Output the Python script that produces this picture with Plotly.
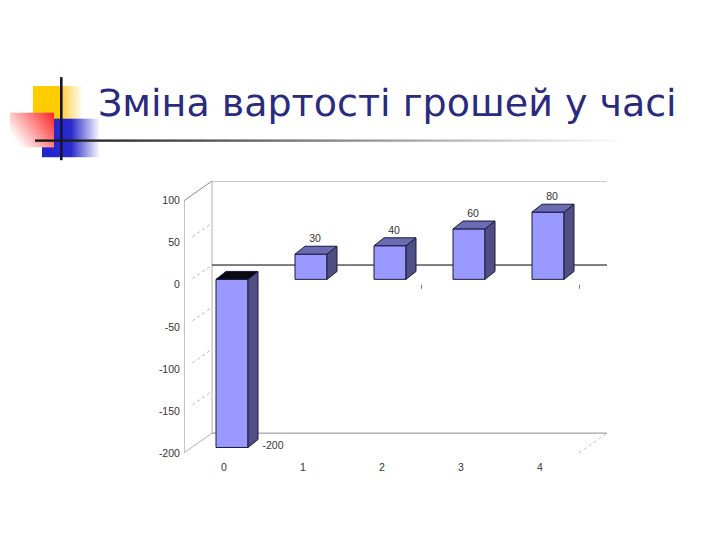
import base64
import plotly.graph_objects as go

title_text = "Зміна вартості грошей у часі"
categories = [0, 1, 2, 3, 4]
values = [-200, 30, 40, 60, 80]
y_ticks = [100, 50, 0, -50, -100, -150, -200]

PX_X = 79.0
PX_Y = 255 / 300
L, R, T, B = 184, 607, 183, 458
X0 = (L - 224) / PX_X
X1 = (R - 224) / PX_X
Y0 = -200
Y1 = 100 + 20 / PX_Y

def dx(p):
    return p / PX_X

def dy(p):
    return p / PX_Y

back_x, back_y = dx(28), dy(20)
shift_x, shift_y = dx(8), dy(5.5)
bar_w = dx(32)
depth_x, depth_y = dx(10), dy(8)

GREY = "#8a8a8a"
shapes = []

def seg(x0, y0, x1, y1, color=GREY, width=1, dash="solid", layer="below"):
    shapes.append(dict(type="line", xref="x", yref="y", x0=x0, y0=y0, x1=x1, y1=y1,
                       line=dict(color=color, width=width, dash=dash), layer=layer))

xr = X1
xf = xr - back_x
# frame
seg(X0, Y0, X0, 100)
seg(X0, 100, X0 + back_x, 100 + back_y)
seg(X0 + back_x, 100 + back_y, xr, 100 + back_y)
seg(X0 + back_x, Y0 + back_y, X0 + back_x, 100 + back_y, color="#b0b0a0")
seg(X0 + back_x, Y0 + back_y, xr, Y0 + back_y)
seg(X0, Y0, X0 + back_x, Y0 + back_y, color="#b0b0b0")
seg(xf, Y0, xr, Y0 + back_y, color="#bbbbbb", dash="dot")
seg(X0 + back_x, back_y, xr, back_y, color="#000000")
for t in y_ticks[1:-1]:
    seg(X0 + back_x * 0.3, t + back_y * 0.3, X0 + back_x, t + back_y, color="#b5b5b5", dash="dot")
for c in (2.5, 4.5):
    seg(c, 0, c, -dy(4), color="#777777")
    seg(c, Y0, c, Y0 - dy(3.5), color="#777777")

# 3D faces of the bars, derived from values
side_x, side_y, top_x, top_y, dtop_x, dtop_y = [], [], [], [], [], []
for c, v in zip(categories, values):
    x_l = c + shift_x - bar_w / 2
    x_r = c + shift_x + bar_w / 2
    hi = max(v, 0) + shift_y
    lo = min(v, 0) + shift_y
    side_x += [x_r, x_r + depth_x, x_r + depth_x, x_r, x_r, None]
    side_y += [lo, lo + depth_y, hi + depth_y, hi, lo, None]
    tx = [x_l, x_l + depth_x, x_r + depth_x, x_r, x_l, None]
    ty = [hi, hi + depth_y, hi + depth_y, hi, hi, None]
    if v < 0:
        dtop_x += tx
        dtop_y += ty
    else:
        top_x += tx
        top_y += ty

fig = go.Figure()
fig.add_trace(go.Bar(x=[c + shift_x for c in categories], y=values, base=shift_y, width=bar_w,
                     marker=dict(color="#9999ff", line=dict(color="#1a1a3a", width=1)),
                     hoverinfo="skip"))
outline = dict(color="#1a1a3a", width=1)
fig.add_trace(go.Scatter(x=side_x, y=side_y, mode="lines", fill="toself",
                         fillcolor="#4f4f85", line=outline, hoverinfo="skip"))
fig.add_trace(go.Scatter(x=top_x, y=top_y, mode="lines", fill="toself",
                         fillcolor="#6b6bb3", line=outline, hoverinfo="skip"))
fig.add_trace(go.Scatter(x=dtop_x, y=dtop_y, mode="lines", fill="toself",
                         fillcolor="#0a0a14", line=outline, hoverinfo="skip"))

# value labels
lab_x, lab_y = [], []
for c, v in zip(categories, values):
    if v < 0:
        lab_x.append(c + dx(49))
        lab_y.append(v + dy(7))
    else:
        lab_x.append(c + dx(12))
        lab_y.append(v + shift_y + dy(15))
fig.add_trace(go.Scatter(x=lab_x, y=lab_y, mode="text", text=[str(v) for v in values],
                         textposition="middle center",
                         textfont=dict(family="Liberation Sans", size=10.5, color="#333333"),
                         hoverinfo="skip"))

svg = """<svg xmlns='http://www.w3.org/2000/svg' width='720' height='540' viewBox='0 0 720 540'>
<defs>
<linearGradient id='y' x1='0' x2='1' y1='0' y2='0'><stop offset='0' stop-color='#ffcc00'/><stop offset='0.58' stop-color='#ffcc00'/><stop offset='0.6' stop-color='#ffd24d'/><stop offset='1' stop-color='#ffffff'/></linearGradient>
<linearGradient id='b' x1='0' x2='1' y1='0' y2='0'><stop offset='0' stop-color='#2222cc'/><stop offset='0.5' stop-color='#2a2acc'/><stop offset='1' stop-color='#ffffff'/></linearGradient>
<linearGradient id='r' x1='1' x2='0' y1='0' y2='0.6'><stop offset='0' stop-color='#ff2222'/><stop offset='1' stop-color='#ffffff'/></linearGradient>
<linearGradient id='l' x1='0' x2='1' y1='0' y2='0'><stop offset='0' stop-color='#111111'/><stop offset='1' stop-color='#ffffff'/></linearGradient>
</defs>
<rect x='33' y='87' width='50' height='34' fill='url(#y)'/>
<rect x='42' y='120' width='58' height='39' fill='url(#b)'/>
<rect x='10' y='114' width='44' height='35' fill='url(#r)'/>
<rect x='35' y='141' width='590' height='2.4' fill='url(#l)'/>
<rect x='60' y='78' width='2.6' height='84' fill='#15153a'/>
</svg>"""
uri = "data:image/svg+xml;base64," + base64.b64encode(svg.encode()).decode()

fig.update_layout(
    width=720, height=540, autosize=False, showlegend=False, barmode="overlay",
    margin=dict(l=0, r=0, t=0, b=0),
    paper_bgcolor="white", plot_bgcolor="rgba(0,0,0,0)",
    font=dict(family="Liberation Sans", size=10.5, color="#333333"),
    shapes=shapes,
    images=[dict(source=uri, xref="paper", yref="paper", x=0, y=1, sizex=1, sizey=1,
                 xanchor="left", yanchor="top", sizing="stretch", layer="below")],
    annotations=[dict(text=title_text, xref="paper", yref="paper", x=96 / 720, y=1 - 104.5 / 540,
                      xanchor="left", yanchor="middle", showarrow=False,
                      font=dict(family="DejaVu Sans", size=38, color="#2a2a7f"))],
    xaxis=dict(domain=[L / 720, R / 720], range=[X0, X1], tickmode="array", tickvals=categories,
               ticktext=[str(c) for c in categories], showgrid=False, zeroline=False, showline=False,
               ticks="outside", ticklen=4, tickcolor="rgba(0,0,0,0)", fixedrange=True),
    yaxis=dict(domain=[(540 - B) / 540, (540 - T) / 540], range=[Y0, Y1], tickmode="array",
               tickvals=y_ticks, ticktext=[str(t) for t in y_ticks], showgrid=False, zeroline=False,
               showline=False, ticks="outside", ticklen=1, tickcolor="rgba(0,0,0,0)", fixedrange=True),
)

fig.write_html("out.html", config={"displayModeBar": False},
               post_script="""var h=document.documentElement,b=document.body;
b.style.margin='0';b.style.height='540px';b.style.overflow='hidden';
h.style.height='540px';h.style.overflow='hidden';
document.querySelectorAll('body>div').forEach(function(d){d.style.display='block';d.style.height='540px';d.style.overflow='hidden';});""")
